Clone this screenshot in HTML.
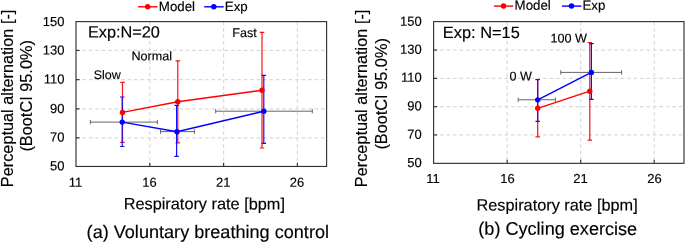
<!DOCTYPE html>
<html><head><meta charset="utf-8"><title>Figure</title>
<style>
html,body{margin:0;padding:0;background:#fff;}
body{width:685px;height:242px;overflow:hidden;}
svg{display:block;will-change:transform;}
text{font-family:"Liberation Sans",sans-serif;fill:#000;stroke:#000;stroke-width:0.15;}
.g{stroke:#dadada;stroke-width:1.2;stroke-dasharray:3.6 2.85;fill:none;}
.f{stroke:#333;stroke-width:1.15;fill:none;}
.t{stroke:#333;stroke-width:1.15;}
.hb{stroke:#666;stroke-width:1;fill:none;}
.er{stroke:#ff1010;stroke-width:1.2;fill:none;}
.eb{stroke:#1010ff;stroke-width:1.2;fill:none;}
.lr{stroke:#ff0000;stroke-width:1.4;fill:none;}
.lb{stroke:#0000ff;stroke-width:1.4;fill:none;}
.dr{fill:#ff0000;}
.db{fill:#0000ff;}
</style></head><body>
<svg width="685" height="242" viewBox="0 0 685 242">
<rect width="685" height="242" fill="#fff"/>
<line x1="76.0" x2="326.6" y1="137.85" y2="137.85" class="g"/>
<line x1="76.0" x2="326.6" y1="108.85" y2="108.85" class="g"/>
<line x1="76.0" x2="326.6" y1="79.65" y2="79.65" class="g"/>
<line x1="76.0" x2="326.6" y1="50.45" y2="50.45" class="g"/>
<line y1="21.6" y2="166.45" x1="149.80" x2="149.80" class="g"/>
<line y1="21.6" y2="166.45" x1="223.60" x2="223.60" class="g"/>
<line y1="21.6" y2="166.45" x1="297.40" x2="297.40" class="g"/>
<rect x="76.0" y="21.6" width="250.60" height="144.85" class="f"/>
<line x1="76.0" x2="79.6" y1="137.85" y2="137.85" class="t"/>
<line x1="76.0" x2="79.6" y1="108.85" y2="108.85" class="t"/>
<line x1="76.0" x2="79.6" y1="79.65" y2="79.65" class="t"/>
<line x1="76.0" x2="79.6" y1="50.45" y2="50.45" class="t"/>
<line y1="162.85" y2="166.45" x1="149.80" x2="149.80" class="t"/>
<line y1="162.85" y2="166.45" x1="223.60" x2="223.60" class="t"/>
<line y1="162.85" y2="166.45" x1="297.40" x2="297.40" class="t"/>
<text transform="matrix(1 0.0006 0 1 64.40 25.90)" font-size="13" text-anchor="end">150</text>
<text transform="matrix(1 0.0006 0 1 64.40 54.40)" font-size="13" text-anchor="end">130</text>
<text transform="matrix(1 0.0006 0 1 64.40 83.60)" font-size="13" text-anchor="end">110</text>
<text transform="matrix(1 0.0006 0 1 64.40 113.00)" font-size="13" text-anchor="end">90</text>
<text transform="matrix(1 0.0006 0 1 64.40 141.60)" font-size="13" text-anchor="end">70</text>
<text transform="matrix(1 0.0006 0 1 64.40 170.20)" font-size="13" text-anchor="end">50</text>
<text transform="matrix(1 0.0006 0 1 75.50 186.80)" font-size="13" text-anchor="middle">11</text>
<text transform="matrix(1 0.0006 0 1 149.60 186.80)" font-size="13" text-anchor="middle">16</text>
<text transform="matrix(1 0.0006 0 1 223.20 186.80)" font-size="13" text-anchor="middle">21</text>
<text transform="matrix(1 0.0006 0 1 297.00 186.80)" font-size="13" text-anchor="middle">26</text>
<path d="M90.4 122.1H157.4M90.4 119.89999999999999V124.3M157.4 119.89999999999999V124.3" class="hb"/>
<path d="M160.5 131.6H194.4M160.5 129.4V133.79999999999998M194.4 129.4V133.79999999999998" class="hb"/>
<path d="M215.7 111.2H312.3M215.7 109.0V113.4M312.3 109.0V113.4" class="hb"/>
<path d="M122.5 82.3V142.4M120.25 82.3H124.75M120.25 142.4H124.75" class="er"/>
<path d="M177.8 60.9V142.9M175.55 60.9H180.05M175.55 142.9H180.05" class="er"/>
<path d="M262.0 32.4V148.0M259.75 32.4H264.25M259.75 148.0H264.25" class="er"/>
<path d="M122.2 97.0V146.5M119.95 97.0H124.45M119.95 146.5H124.45" class="eb"/>
<path d="M176.6 105.4V156.4M174.35 105.4H178.85M174.35 156.4H178.85" class="eb"/>
<path d="M263.8 75.4V143.45M261.55 75.4H266.05M261.55 143.45H266.05" class="eb"/>
<path d="M122.5 112.4L177.8 101.7L262.0 90.2" class="lr"/>
<circle cx="122.5" cy="112.4" r="2.7" class="dr"/>
<circle cx="177.8" cy="101.7" r="2.7" class="dr"/>
<circle cx="262.0" cy="90.2" r="2.7" class="dr"/>
<path d="M122.2 122.1L177.0 131.7L263.8 111.2" class="lb"/>
<circle cx="122.2" cy="122.1" r="2.7" class="db"/>
<circle cx="177.0" cy="131.7" r="2.7" class="db"/>
<circle cx="263.8" cy="111.2" r="2.7" class="db"/>
<text transform="matrix(1 0.0006 0 1 87.90 37.40)" font-size="16.3">Exp:N=20</text>
<text transform="matrix(1 0.0006 0 1 93.70 78.90)" font-size="12.5">Slow</text>
<text transform="matrix(1 0.0006 0 1 131.40 60.20)" font-size="12.6">Normal</text>
<text transform="matrix(1 0.0006 0 1 232.20 36.95)" font-size="12.6">Fast</text>
<path d="M138.10000000000002 6.8H157.5" class="lr"/><circle cx="147.70000000000002" cy="6.8" r="2.75" class="dr"/>
<text transform="matrix(1 0.0006 0 1 158.80 10.90)" font-size="13.3">Model</text>
<path d="M204.20 6.8H223.70" class="lb"/><circle cx="213.80" cy="6.8" r="2.75" class="db"/>
<text transform="matrix(1 0.0006 0 1 224.80 10.90)" font-size="13.3">Exp</text>
<text transform="translate(12.90 98.40) rotate(-90)" font-size="16.3" text-anchor="middle">Perceptual alternation [-]</text>
<text transform="translate(31.80 95.85) rotate(-90)" font-size="16.3" text-anchor="middle">(BootCI 95.0%)</text>
<text transform="matrix(1 0.0006 0 1 123.70 209.30)" font-size="16.3">Respiratory rate [bpm]</text>
<text transform="matrix(1 0.0006 0 1 86.60 237.90)" font-size="18.1">(a) Voluntary breathing control</text>
<line x1="433.6" x2="684.0" y1="134.95" y2="134.95" class="g"/>
<line x1="433.6" x2="684.0" y1="106.70" y2="106.70" class="g"/>
<line x1="433.6" x2="684.0" y1="78.40" y2="78.40" class="g"/>
<line x1="433.6" x2="684.0" y1="50.05" y2="50.05" class="g"/>
<line y1="21.6" y2="163.35" x1="507.15" x2="507.15" class="g"/>
<line y1="21.6" y2="163.35" x1="580.70" x2="580.70" class="g"/>
<line y1="21.6" y2="163.35" x1="654.25" x2="654.25" class="g"/>
<rect x="433.6" y="21.6" width="250.40" height="141.75" class="f"/>
<line x1="433.6" x2="437.20000000000005" y1="134.95" y2="134.95" class="t"/>
<line x1="433.6" x2="437.20000000000005" y1="106.70" y2="106.70" class="t"/>
<line x1="433.6" x2="437.20000000000005" y1="78.40" y2="78.40" class="t"/>
<line x1="433.6" x2="437.20000000000005" y1="50.05" y2="50.05" class="t"/>
<line y1="159.75" y2="163.35" x1="507.15" x2="507.15" class="t"/>
<line y1="159.75" y2="163.35" x1="580.70" x2="580.70" class="t"/>
<line y1="159.75" y2="163.35" x1="654.25" x2="654.25" class="t"/>
<text transform="matrix(1 0.0006 0 1 421.80 25.80)" font-size="13" text-anchor="end">150</text>
<text transform="matrix(1 0.0006 0 1 421.80 53.85)" font-size="13" text-anchor="end">130</text>
<text transform="matrix(1 0.0006 0 1 421.80 81.70)" font-size="13" text-anchor="end">110</text>
<text transform="matrix(1 0.0006 0 1 421.80 110.25)" font-size="13" text-anchor="end">90</text>
<text transform="matrix(1 0.0006 0 1 421.80 138.75)" font-size="13" text-anchor="end">70</text>
<text transform="matrix(1 0.0006 0 1 421.80 167.10)" font-size="13" text-anchor="end">50</text>
<text transform="matrix(1 0.0006 0 1 433.00 183.10)" font-size="13" text-anchor="middle">11</text>
<text transform="matrix(1 0.0006 0 1 507.40 183.10)" font-size="13" text-anchor="middle">16</text>
<text transform="matrix(1 0.0006 0 1 580.40 183.10)" font-size="13" text-anchor="middle">21</text>
<text transform="matrix(1 0.0006 0 1 654.50 183.10)" font-size="13" text-anchor="middle">26</text>
<path d="M518.2 99.75H555.4M518.2 97.55V101.95M555.4 97.55V101.95" class="hb"/>
<path d="M560.8 72.4H621.6M560.8 70.2V74.60000000000001M621.6 70.2V74.60000000000001" class="hb"/>
<path d="M537.7 79.7V136.9M535.45 79.7H539.95M535.45 136.9H539.95" class="er"/>
<path d="M589.8 42.5V140.2M587.55 42.5H592.05M587.55 140.2H592.05" class="er"/>
<path d="M537.7 79.5V121.45M535.45 79.5H539.95M535.45 121.45H539.95" class="eb"/>
<path d="M591.4 43.6V99.35M589.15 43.6H593.65M589.15 99.35H593.65" class="eb"/>
<path d="M537.7 108.3L589.8 91.2" class="lr"/>
<circle cx="537.7" cy="108.3" r="2.7" class="dr"/>
<circle cx="589.8" cy="91.2" r="2.7" class="dr"/>
<path d="M537.7 99.85L591.4 72.4" class="lb"/>
<circle cx="537.7" cy="99.85" r="2.7" class="db"/>
<circle cx="591.4" cy="72.4" r="2.7" class="db"/>
<text transform="matrix(1 0.0006 0 1 442.80 38.00)" font-size="16.4">Exp: N=15</text>
<text transform="matrix(1 0.0006 0 1 509.40 80.60)" font-size="12.6">0 W</text>
<text transform="matrix(1 0.0006 0 1 550.50 42.50)" font-size="12.6">100 W</text>
<path d="M493.90000000000003 6.1H513.3000000000001" class="lr"/><circle cx="503.5" cy="6.1" r="2.75" class="dr"/>
<text transform="matrix(1 0.0006 0 1 514.60 9.80)" font-size="13.3">Model</text>
<path d="M561.90 6.1H581.40" class="lb"/><circle cx="571.50" cy="6.1" r="2.75" class="db"/>
<text transform="matrix(1 0.0006 0 1 582.50 9.80)" font-size="13.3">Exp</text>
<text transform="translate(366.90 98.40) rotate(-90)" font-size="16.3" text-anchor="middle">Perceptual alternation [-]</text>
<text transform="translate(387.00 93.90) rotate(-90)" font-size="16.3" text-anchor="middle">(BootCI 95.0%)</text>
<text transform="matrix(1 0.0006 0 1 476.50 210.40)" font-size="16.3">Respiratory rate [bpm]</text>
<text transform="matrix(1 0.0006 0 1 478.30 234.80)" font-size="18.1">(b) Cycling exercise</text>
</svg>
</body></html>
